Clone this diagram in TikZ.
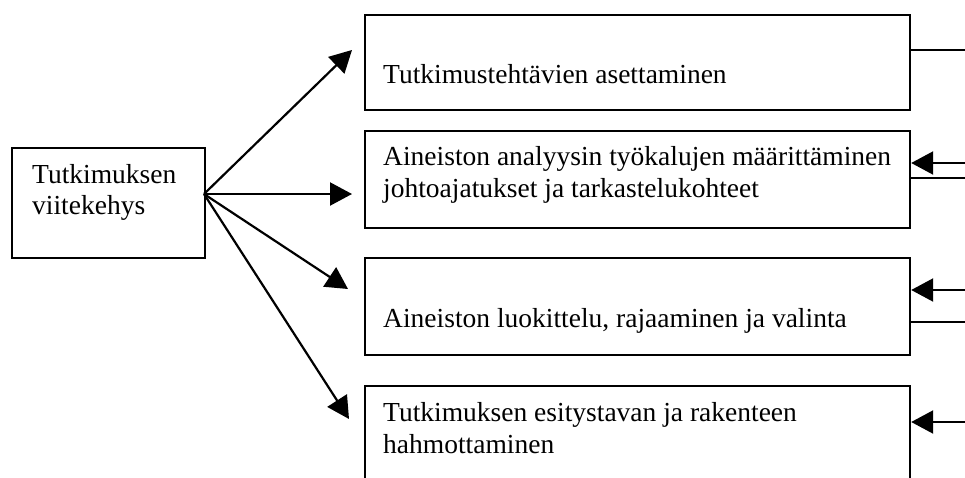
\documentclass[tikz,border=0pt]{standalone}
\usepackage{fontspec}
\setmainfont{Liberation Serif}
\usetikzlibrary{arrows.meta}
\begin{document}
\begin{tikzpicture}[x=1pt,y=-1pt,
  boxnode/.style={draw,line width=2.2pt,rectangle,anchor=north west,inner sep=0pt},
  txt/.style={anchor=base west,inner sep=0pt,align=left,font=\fontsize{27.5}{31.5}\selectfont},
  conn/.style={line width=2.2pt},
  arr/.style={line width=2.2pt,-{Triangle[length=22pt,width=23pt]}}]
\useasboundingbox (0,0) rectangle (965,477);
% boxes
\node[boxnode,minimum width=193pt,minimum height=110pt] (lb) at (11,147) {};
\node[boxnode,minimum width=545pt,minimum height=95pt] (b1) at (364,14) {};
\node[boxnode,minimum width=545pt,minimum height=97pt] (b2) at (364,130) {};
\node[boxnode,minimum width=545pt,minimum height=97pt] (b3) at (364,257) {};
\node[boxnode,minimum width=545pt,minimum height=140pt] (b4) at (364,385) {};
% texts (base anchor = baseline of last line)
\node[txt] (tl) at (32,214.5) {Tutkimuksen\\viitekehys};
\node[txt] (t1) at (383,83) {Tutkimustehtävien asettaminen};
\node[txt] (t2) at (383,197) {Aineiston analyysin työkalujen määrittäminen\\johtoajatukset ja tarkastelukohteet};
\node[txt] (t3) at (383,327) {Aineiston luokittelu, rajaaminen ja valinta};
\node[txt] (t4) at (383,453) {Tutkimuksen esitystavan ja rakenteen\\hahmottaminen};
% left fan of arrows
\coordinate (src) at (204,194);
\coordinate (e1) at (352,50);
\coordinate (e2) at (352,194);
\coordinate (e3) at (348,289);
\coordinate (e4) at (349,419);
\draw[arr] (src) -- (e1);
\draw[arr] (src) -- (e2);
\draw[arr] (src) -- (e3);
\draw[arr] (src) -- (e4);
% right side connectors
\coordinate (r1) at (965,50);
\coordinate (r2a) at (965,163);
\coordinate (r2b) at (965,178);
\coordinate (r3a) at (965,290);
\coordinate (r3b) at (965,322);
\coordinate (r4a) at (965,422);
\draw[conn] (b1.east |- r1) -- (r1);
\draw[arr] (r2a) -- (b2.east |- r2a);
\draw[conn] (b2.east |- r2b) -- (r2b);
\draw[arr] (r3a) -- (b3.east |- r3a);
\draw[conn] (b3.east |- r3b) -- (r3b);
\draw[arr] (r4a) -- (b4.east |- r4a);
\end{tikzpicture}
\end{document}
